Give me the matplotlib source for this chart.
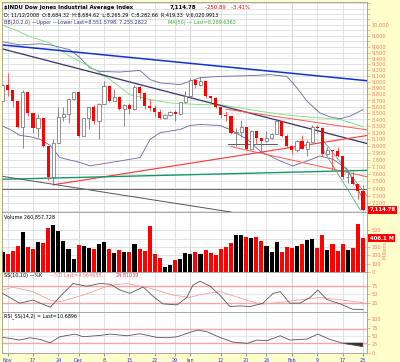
import matplotlib
matplotlib.use('Agg')
import matplotlib.pyplot as plt

# ---- data ($INDU daily, 7 Nov 2008 .. 23 Feb 2009) ----
prev_close = 8695.79
closes = [8943.81, 8870.54, 8693.96, 8282.66, 8835.25, 8497.31, 8273.58, 8424.75, 7997.28, 7552.29,
          8046.42, 8443.39, 8479.47, 8726.61, 8829.04, 8149.09, 8419.09, 8591.69, 8376.24, 8635.42,
          8934.18, 8691.33, 8761.42, 8565.09, 8629.68, 8564.53, 8924.14, 8824.34, 8604.99, 8579.11,
          8519.69, 8419.49, 8468.48, 8515.55, 8483.93, 8668.39, 8776.39, 9034.69, 8952.89, 9015.10,
          8769.70, 8742.46, 8599.18, 8473.97, 8448.56, 8200.14, 8212.49, 8281.22, 7949.09, 8228.10,
          8122.80, 8077.56, 8116.03, 8174.73, 8375.45, 8149.01, 8000.86, 7936.75, 8078.36, 7956.66,
          8063.07, 8280.59, 8270.87, 7888.88, 7939.53, 7932.76, 7850.41, 7552.60, 7555.63, 7465.95,
          7365.67, 7114.78]
highs = [8960, 9150, 8870, 8690, 8875, 8835, 8500, 8480, 8425, 8000,
         8100, 8600, 8590, 8735, 8830, 8830, 8420, 8600, 8630, 8650,
         9020, 8950, 8880, 8770, 8640, 8660, 8950, 8925, 8830, 8720,
         8620, 8560, 8480, 8530, 8540, 8670, 8850, 9065, 9035, 9090,
         9015, 8770, 8750, 8600, 8530, 8450, 8270, 8390, 8280, 8240,
         8225, 8120, 8230, 8200, 8400, 8375, 8185, 8000, 8090, 8160,
         8090, 8315, 8310, 8290, 7990, 7935, 7990, 7850, 7620, 7640,
         7465, 7440]
lows = [8700, 8770, 8600, 8265, 7965, 8450, 8200, 8140, 7990, 7508,
        7449, 8040, 8380, 8350, 8700, 8140, 8150, 8250, 8330, 8110,
        8640, 8670, 8690, 8540, 8300, 8480, 8550, 8720, 8560, 8530,
        8440, 8400, 8410, 8460, 8370, 8470, 8660, 8760, 8900, 8940,
        8740, 8650, 8580, 8420, 8380, 8180, 8000, 8140, 7940, 7950,
        8030, 7910, 8060, 8100, 8175, 8140, 7990, 7880, 7910, 7950,
        7860, 8060, 8200, 7850, 7870, 7660, 7840, 7530, 7480, 7450,
        7250, 7092]
volume = [240, 216, 252, 312, 476, 300, 272, 360, 344, 528,
          564, 492, 372, 280, 152, 320, 308, 292, 276, 340,
          356, 280, 228, 268, 240, 236, 340, 272, 250, 548,
          216, 172, 60, 84, 148, 160, 228, 220, 236, 212,
          260, 228, 204, 272, 300, 352, 440, 440, 416, 404,
          416, 368, 312, 244, 356, 244, 300, 292, 312, 340,
          388, 392, 288, 448, 268, 332, 252, 332, 268, 292,
          580, 406]

# Bollinger(20,2) and MA(50), read as (day index, price)
bb_x = [0, 3.4, 7.4, 9.4, 13.3, 15.3, 17.2, 19.2, 23.1, 27.1, 29.1, 31, 35, 36.9, 38.9,
        42.8, 48.2, 52.7, 56, 58, 60, 62.5, 64.5, 66.5, 68.4, 71]
bb_upper = [9690, 9635, 9653, 9635, 9547, 9408, 9237, 9175, 9165, 9192, 9038, 8984, 8956, 9010, 9070,
            9092, 9103, 9121, 9092, 8902, 8685, 8502, 8441, 8410, 8450, 8552]
bbl_x = [0, 1.5, 3.4, 5.4, 7.4, 9.4, 11.3, 15.3, 17.2, 19.2, 23.1, 27.1, 29.1, 31, 35, 36.9, 38.9,
         42.8, 44.8, 48.2, 50.7, 54.7, 57.2, 60, 62.5, 65.1, 67.9, 71]
bb_lower = [8297, 8247, 8157, 8138, 8098, 8009, 7831, 7760, 7712, 7736, 7782, 7831, 8098, 8197, 8247,
            8307, 8322, 8307, 8247, 8098, 7926, 7782, 7712, 7782, 7854, 7807, 7666, 7255]
ma_x = [0, 2.5, 5.4, 9.4, 13.3, 17.2, 21.2, 25.1, 29.1, 33, 38.9, 42.8, 50.7, 56.6, 62.5, 66.5, 71]
ma50 = [9990, 9903, 9782, 9665, 9431, 9260, 9038, 8792, 8712, 8659, 8632, 8632, 8527, 8461, 8425, 8399, 8290]

# hand drawn trend lines: (x0, x1), (p0, p1)
blue_line = ([-0.1, 71.8], [9635, 9020])
navy_line = ([-0.1, 71.8], [9565, 8036])
red_up = ([10, 71.8], [7449, 8155])
red_a = ([44, 71.8], [8560, 8240])
red_b = ([45, 71.8], [7990, 7560])
green_line = ([-0.1, 71.8], [7524, 7649])
gray_down = ([-0.1, 38.9], [7566, 7148])
flat_line = 7386
short_flat = ([44.4, 54.1], [8036, 8036])
teal_a = ([63, 71.8], [8098, 7300])
teal_b = ([63, 70.5], [7960, 7110])

# stochastics(10,10) and RSI, read as (day index, value)
k_x = [0, 3.4, 6, 9.4, 11.3, 13.9, 16.6, 19.2, 21.2, 23.1, 25.1, 27.7, 29.6, 31.6, 34.4, 36.3, 37.5,
       38.9, 40.9, 42.8, 44.8, 46.8, 48.8, 51.3, 53.3, 54.7, 56.6, 58.6, 60.6, 62.1, 63.9, 66.5, 69, 71]
pct_k = [52, 23, 32, 11, 42, 81, 73, 81, 79, 62, 52, 71, 44, 21, 18, 40, 76,
         88, 73, 47, 13, 15, 13, 23, 52, 57, 23, 23, 40, 62, 34, 21, 5, 4.6]
d_x = [0, 2.1, 6, 9.4, 11.3, 15.9, 21.2, 24.5, 29.1, 33.6, 36.9, 38.9, 42.8, 50.7, 53.3, 62.5, 71]
pct_d = [62, 70, 57, 32, 27, 47, 76, 81, 67, 47, 40, 48, 57, 20, 23, 40, 24.8]
rsi_x = [0.1, 3.4, 5.4, 7.4, 9.4, 11.3, 14.3, 15.9, 19.2, 21.2, 24.5, 27.1, 30.4, 32.4, 34.4, 37.3,
         38.5, 40.3, 42.8, 45.4, 48.2, 50.1, 52.1, 54.7, 56.6, 60, 62.1, 64.5, 67.1, 71]
rsi = [46, 38, 45, 40, 30, 48, 56, 48, 52, 56, 51, 57, 46, 45, 48, 63,
       68, 63, 46, 32, 28, 38, 36, 51, 38, 41, 56, 40, 28, 18]

tick_idx = [1, 6, 11, 15, 20, 25, 30, 34, 37, 43, 48, 52, 57, 62, 67, 71]
tick_lbl = ['Nov', '17', '24', 'Dec', '8', '15', '22', '29', 'Jan', '12', '20', '26', 'Feb', '9', '17', '23']
month_idx = [15, 37, 57]
price_lbl = [10000, 9800, 9600, 9500, 9400, 9300, 9200, 9100, 9000, 8900, 8800, 8700, 8600, 8500,
             8400, 8300, 8200, 8100, 8000, 7900, 7800, 7700, 7600, 7500, 7400, 7300, 7200]
vol_ticks = [0, 100, 200, 300, 400, 500]
vol_lbl = ['0', '100', '200', '300', '', '500']   # 400 sits under the 406.1 M tag

# ---- layout ----
W, H = 400, 362
YEL = '#FFFFCC'
SAL = '#F07A6A'
fig = plt.figure(figsize=(W / 100, H / 100), dpi=100, facecolor=YEL)


def panel(top, bottom):
    a = fig.add_axes([2 / W, 1 - bottom / H, 365 / W, (bottom - top) / H])
    a.set_facecolor('white')
    a.set_xlim(-0.1, 71.8)
    for s in a.spines.values():
        s.set_color('#999999')
        s.set_linewidth(0.6)
    a.set_xticks(tick_idx)
    a.tick_params(axis='x', length=0, labelbottom=False)
    a.grid(axis='x', color='#DDDDDD', lw=0.6)
    for m in month_idx:
        a.axvline(m, color='#AAAAAA', lw=0.7, zorder=0.5)
    a.yaxis.tick_right()
    a.tick_params(axis='y', labelsize=3.6, colors=SAL, length=2, width=0.4, pad=1.5)
    a.set_axisbelow(True)
    return a


n = len(closes)
days = list(range(n))
opens = [prev_close] + closes[:-1]
up = [c >= o for c, o in zip(closes, opens)]

# price panel
ax = panel(2, 212)
ax.set_yscale('log')
ax.set_ylim(7085, 10425)
ax.yaxis.set_minor_locator(plt.NullLocator())
grid_vals = list(range(7100, 10500, 100))
ax.set_yticks(grid_vals)
ax.set_yticklabels([f'{v:,}' if v in price_lbl else '' for v in grid_vals])
ax.yaxis.set_minor_formatter(plt.NullFormatter())
ax.grid(axis='y', color='#DDDDDD', lw=0.6)

for i in days:
    o, c = opens[i], closes[i]
    if up[i]:
        ax.vlines(i, lows[i], highs[i], color='#777777', lw=0.6, zorder=3)
        ax.bar(i, c - o, bottom=o, width=0.62, facecolor='white', edgecolor='#666666', lw=0.5, zorder=4)
    else:
        ax.vlines(i, lows[i], highs[i], color='#FF4444', lw=0.6, zorder=3)
        ax.bar(i, o - c, bottom=c, width=0.62, color='#FF0000', lw=0, zorder=4)

ax.plot(bb_x, bb_upper, color='#6666AA', lw=0.6, zorder=2)
ax.plot(bbl_x, bb_lower, color='#6666AA', lw=0.6, zorder=2)
ax.plot(ma_x, ma50, color='#77DD77', lw=0.6, zorder=2)

ax.plot(*blue_line, color='#1133CC', lw=1.1, zorder=2)
ax.plot(*navy_line, color='#333366', lw=0.9, zorder=2)
ax.plot(*red_up, color='#FF3333', lw=0.8, zorder=2)
ax.plot(*red_a, color='#FF5555', lw=0.7, zorder=2)
ax.plot(*red_b, color='#FF5555', lw=0.7, zorder=2)
ax.plot(*green_line, color='#119966', lw=1.0, zorder=2)
ax.axline((gray_down[0][0], gray_down[1][0]), (gray_down[0][1], gray_down[1][1]), color='#555555', lw=0.7, zorder=2)
ax.axhline(flat_line, color='#666666', lw=0.7, zorder=2)
ax.plot(*short_flat, color='#444444', lw=0.6, zorder=2)
ax.plot(*teal_a, color='#55AA99', lw=0.6, zorder=2)
ax.plot(*teal_b, color='#55AA99', lw=0.6, zorder=2)

ax.text(0.006, 0.985, '$INDU Dow Jones Industrial Average Index', transform=ax.transAxes, fontsize=3.9,
        fontweight='bold', va='top')
ax.text(0.46, 0.985, '7,114.78', transform=ax.transAxes, fontsize=3.9, fontweight='bold', va='top')
ax.text(0.555, 0.985, '-250.89   -3.41%', transform=ax.transAxes, fontsize=3.9, color='#FF0000', va='top')
ax.text(0.006, 0.95, 'D: 11/12/2008  O:8,684.32  H:8,684.62  L:8,265.29  C:8,282.66  R:419.33  V:6,020.9913',
        transform=ax.transAxes, fontsize=3.5, va='top')
ax.text(0.006, 0.915, 'BB(20,2.0) \u2014Upper \u2014Lower Last=8,551.5798, 7,255.2822', transform=ax.transAxes,
        fontsize=3.5, color='#333377', va='top')
ax.text(0.455, 0.915, 'MA(50) \u2014 Last=8,289.6362', transform=ax.transAxes, fontsize=3.5,
        color='#33AA33', va='top')
ax.annotate('7,114.78', xy=(1.0, closes[-1]), xycoords=('axes fraction', 'data'), xytext=(2, 0),
            textcoords='offset points', fontsize=3.8, fontweight='bold', color='white', va='center',
            bbox=dict(boxstyle='square,pad=0.25', fc='#FF0000', ec='none'), annotation_clip=False)

# volume panel
av = panel(212, 272)
av.set_ylim(0, 720)
av.bar(days, volume, width=0.8, color=['#000000' if u else '#FF0000' for u in up], lw=0)
av.set_yticks(vol_ticks)
av.set_yticklabels(vol_lbl)
av.grid(axis='y', color='#DDDDDD', lw=0.6)
av.text(0.006, 0.96, 'Volume 260,857,728', transform=av.transAxes, fontsize=3.5, va='top')
av.text(1.05, 0.37, 'Millions', transform=av.transAxes, rotation=90, fontsize=3.4, color=SAL,
        va='center', ha='center')
av.annotate('406.1 M', xy=(1.0, volume[-1]), xycoords=('axes fraction', 'data'), xytext=(2, 0),
            textcoords='offset points', fontsize=3.8, fontweight='bold', color='white', va='center',
            bbox=dict(boxstyle='square,pad=0.25', fc='#FF0000', ec='none'), annotation_clip=False)

# slow stochastics panel
ast = panel(272, 312)
ast.set_ylim(-3, 115)
ast.set_yticks([25, 50, 75])
for lvl in (25, 75):
    ast.axhline(lvl, color='#F4A6A6', lw=1.0, zorder=1)
ast.axhline(50, color='#E4E4E4', lw=0.6, zorder=1)
ast.plot(d_x, pct_d, color='#F4A0A0', lw=0.6, zorder=2)
ast.plot(k_x, pct_k, color='#555555', lw=0.6, zorder=3)
ast.text(0.006, 0.98, 'SS(10,10) \u2014%K', transform=ast.transAxes, fontsize=3.5, va='top')
ast.text(0.13, 0.98, '\u2014%D Last=4.564688,', transform=ast.transAxes, fontsize=3.5, va='top', color='#EE7777')
ast.text(0.31, 0.98, '24.81039', transform=ast.transAxes, fontsize=3.5, va='top', color='#FF3333')

# RSI panel
ar = panel(312, 353)
ar.set_ylim(-1, 122.6)
ar.set_yticks([0, 25, 50, 75, 100])
for lvl in (30, 70):
    ar.axhline(lvl, color='#F4A6A6', lw=1.0, zorder=1)
ar.axhline(50, color='#E4E4E4', lw=0.6, zorder=1)
ar.plot(rsi_x, rsi, color='#555555', lw=0.6, zorder=3)
ar.fill_between(rsi_x, rsi, 30, where=[v <= 30 for v in rsi], color='#333333', lw=0, zorder=2)
ar.text(0.006, 0.98, 'RSI_SS(14,2) = Last=10.6896', transform=ar.transAxes, fontsize=3.5, va='top')
ar.tick_params(axis='x', labelbottom=True, labelsize=3.5, labelcolor='#2233CC', pad=1.5, length=2,
               color='#999999')
ar.set_xticklabels(tick_lbl)

fig.savefig('out.png', dpi=100, facecolor=YEL)
